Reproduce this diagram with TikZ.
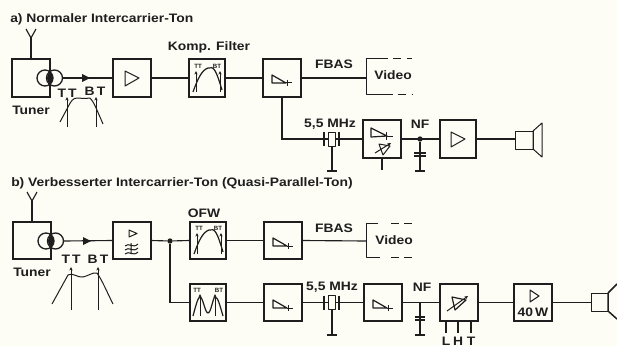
\documentclass[tikz,border=0pt]{standalone}
\usepackage{fontspec}
\setmainfont{Liberation Sans}
\newfontfamily\widesans[FakeStretch=1.13]{Liberation Sans}
\usetikzlibrary{arrows.meta}
\definecolor{ink}{HTML}{1E1E1E}
\definecolor{paper}{HTML}{FDFDF6}
\tikzset{
  blk/.style={draw=ink,line width=1.5pt,rectangle,inner sep=0pt,outer sep=0pt,minimum width=28.5pt,minimum height=28pt},
  wire/.style={draw=ink,line width=.85pt},
  sym/.style={draw=ink,line width=.75pt,line join=round},
  lab/.style={text=ink,font=\widesans\bfseries\fontsize{9.2}{10}\selectfont,inner sep=0pt},
  ttl/.style={text=ink,font=\widesans\bfseries\fontsize{9.2}{10}\selectfont,inner sep=0pt,anchor=west},
  tiny/.style={text=ink,font=\bfseries\fontsize{4.6}{5}\selectfont,inner sep=0pt},
  dot/.style={circle,fill=ink,inner sep=0pt,outer sep=0pt,minimum size=4pt},
  up/.style={-{Stealth[length=2.6pt,width=2.4pt]}},
}
\newcommand\AmpSym[2]{\draw[sym] (#1-6,#2-7)--(#1-6,#2+8)--(#1+8,#2)--cycle;}
\newcommand\DetSym[2]{\begin{scope}[shift={(#1,#2)}]
  \draw[sym,line width=.9pt] (-10,-3)--(-10,5)--(4,5)--cycle;
  \draw[sym] (4,5)--(10,5) (5,2)--(5,8);
\end{scope}}
\newcommand\Ant[2]{\draw[wire] (#1,#2)--(#1,#2-21) (#1-5,#2-30)--(#1,#2-21)--(#1+5,#2-30);}
\newcommand\Mix[2]{\begin{scope}[shift={(#1,#2)}]
  \draw[sym,line width=1pt] (-5,0) circle[radius=8] (4.5,0) circle[radius=8];
  \fill[ink] (0,0) ellipse[x radius=3,y radius=5];
\end{scope}}
\newcommand\Crystal[2]{\begin{scope}[shift={(#1,#2)}]
  \draw[sym,line width=1.1pt] (-8,-7)--(-8,7) (7,-7)--(7,7);
  \fill[paper] (-4,-7) rectangle (3,7);
  \draw[sym] (-4,-7) rectangle (3,7);
\end{scope}}
\newcommand\Gnd[2]{\draw[sym,line width=1.3pt] (#1-5,#2)--(#1+5,#2);}
\begin{document}
\begin{tikzpicture}[x=.75pt,y=-.75pt]
\fill[paper] (0,0) rectangle (617,346);
\useasboundingbox (0,0) rectangle (617,346);

% ---------- a)
\node[ttl] (ta) at (10,19) {a) Normaler Intercarrier-Ton};
\node[blk] (atun) at (31,78) {};
\node[blk] (aamp) at (131.5,78) {};
\node[blk,minimum width=27pt] (afil) at (206.5,78) {};
\node[blk] (adet) at (282,78) {};
\node[blk] (adem) at (382,139) {};
\node[blk,minimum width=27pt] (anf) at (458,139) {};
\node[lab] (ltuna) at (31,110) {Tuner};
\node[lab] (lkomp) at (209,47) {Komp. Filter};
\node[lab] (lfbasa) at (334,64) {FBAS};
\node[lab] (lvida) at (393,75) {Video};
\node[lab] (lmhza) at (330,124) {5,5 MHz};
\node[lab] (lnfa) at (420,124) {NF};
\node[lab] (ltta) at (67,93) {T\,T};
\node[lab] (lbta) at (95,91) {B\,T};
\node[tiny] (lfta) at (198,66) {TT};
\node[tiny] (lfba) at (217,66) {BT};

\coordinate (amix) at (62.5,78);
\coordinate (avid) at (366,78);
\coordinate (axt) at (324,139);
\coordinate (aspk) at (515,139);
\draw[wire] (atun.north)--(31,38);
\draw[wire] (amix)--(aamp.west);
\draw[wire] (aamp.east)--(afil.west);
\draw[wire] (afil.east)--(adet.west);
\draw[wire] (adet.east)--(avid);
\draw[wire] (adet.south)|-(axt);
\draw[wire] (axt)--(adem.west);
\draw[wire] (adem.east)--(anf.west);
\draw[wire] (anf.east)--(aspk);
\Ant{31}{59}
\Mix{50}{78}
\fill[ink] (90,78)--(82,74)--(82,82)--cycle;
\AmpSym{131}{78}
\DetSym{282}{78}
\draw[sym] (380,59)--(366,59)--(366,94)--(385,94);
\draw[sym,dash pattern=on 6pt off 4pt] (380,59)--(412,59) (385,94)--(412,94);
\Crystal{332}{139}
\draw[wire] (332,146)--(332,170); \Gnd{332}{171}
\draw[sym,line width=.9pt] (371,128)--(371,137)--(387,136)--cycle;
\draw[sym] (387,136)--(393,136) (386,132)--(386,140);
\draw[sym] (379,144)--(383,155)--(390,146)--cycle;
\draw[sym,up] (375,153)--(391,143);
\draw[wire] (adem.south)--(382,170);
\node[dot] (adotn) at (420,139) {};
\draw[wire] (adotn)--(420,171); \Gnd{420}{171}
\draw[sym,line width=1.1pt] (414,153)--(426,153) (414,156)--(426,156);
\AmpSym{457}{139}
\draw[sym] (515,131) rectangle (533,149);
\draw[sym] (533,131)--(542,123)--(542,157)--(533,149)--cycle;
\draw[sym,up] (67,127)--(67,97);
\draw[sym,up] (96,127)--(96,97);
\draw[sym] (60,122)--(68,107) .. controls (71,101) and (73,98) .. (77,98) .. controls (81,98) and (84,99) .. (90,98) .. controls (94,102) and (96,108) .. (103,124);
\draw[sym,line width=.9pt] (193,92) .. controls (198,78) and (202,70) .. (208,68) .. controls (214,66) and (216,70) .. (222,90);
\draw[sym,up] (196,92)--(196,71);
\draw[sym,up] (220,92)--(220,71);

% ---------- b)
\node[ttl] (tb) at (11,183) {b) Verbesserter Intercarrier-Ton (Quasi-Parallel-Ton)};
\node[blk] (btun) at (32,240.5) {};
\node[blk] (bamp) at (132,240.5) {};
\node[blk,minimum width=27pt] (bofw) at (207.5,240.5) {};
\node[blk] (bdet) at (283,240.5) {};
\node[blk,minimum width=27pt] (bfil) at (207.5,302.5) {};
\node[blk] (bde2) at (283,302.5) {};
\node[blk] (bdem) at (383,302.5) {};
\node[blk] (bvol) at (458.5,302.5) {};
\node[blk] (bpow) at (533,302.5) {};
\node[lab] (ltunb) at (32,272) {Tuner};
\node[lab] (lofw) at (204,213) {OFW};
\node[lab] (lfbasb) at (334,228) {FBAS};
\node[lab] (lvidb) at (394,240) {Video};
\node[lab] (lmhzb) at (332,287) {5,5 MHz};
\node[lab] (lnfb) at (422,287) {NF};
\node[lab] (lttb) at (71,259) {T\,T};
\node[lab] (lbtb) at (98,259) {B\,T};
\node[lab] (l40) at (533,312) {40\,W};
\node[lab] (ll) at (446,341) {L};
\node[lab] (lh) at (458,341) {H};
\node[lab] (lt) at (471,341) {T};
\node[tiny] (lftb) at (199,228) {TT};
\node[tiny] (lfbb) at (218,228) {BT};
\node[tiny] (lf2t) at (197,290) {TT};
\node[tiny] (lf2b) at (219,290) {BT};

\coordinate (bmix) at (63.5,241);
\coordinate (bvid) at (366,241);
\coordinate (bspk) at (591,302.5);
\node[dot] (bdot) at (170,241) {};
\draw[wire] (btun.north)--(32,201);
\draw[wire] (bmix)--(bamp.west);
\draw[wire] (bamp.east)--(bdot)--(bofw.west);
\draw[wire] (bofw.east)--(bdet.west);
\draw[wire] (bdet.east)--(bvid);
\draw[wire] (bdot)|-(bfil.west);
\draw[wire] (bfil.east)--(bde2.west);
\draw[wire] (bde2.east)--(bdem.west);
\draw[wire] (bdem.east)--(bvol.west);
\draw[wire] (bvol.east)--(bpow.west);
\draw[wire] (bpow.east)--(bspk);
\Ant{32}{222}
\Mix{51}{241}
\fill[ink] (91,241)--(83,237)--(83,245)--cycle;
\DetSym{283}{241}
\DetSym{283}{303}
\DetSym{383}{303}
\draw[sym] (129,230)--(129,237)--(137,233.5)--cycle;
\draw[sym] (125,246) .. controls (129,242) and (133,249) .. (138,244)
           (125,250) .. controls (129,246) and (133,253) .. (138,248)
           (125,254) .. controls (129,250) and (133,257) .. (138,252)
           (131,243)--(131,254);
\draw[sym] (378,223)--(366,223)--(366,257)--(380,257);
\draw[sym,dash pattern=on 6pt off 4pt] (391,223)--(413,223) (391,257)--(413,257);
\Crystal{332}{302.5}
\draw[wire] (332,309)--(332,334); \Gnd{332}{335}
\draw[wire] (420,302.5)--(420,335); \Gnd{420}{335}
\draw[sym,line width=1.1pt] (415,317)--(425,317) (415,320)--(425,320);
\draw[sym,line width=.9pt] (452,297)--(455,310)--(466,300)--cycle;
\draw[sym,up] (447,311)--(468,296);
\draw[wire] (446,321)--(446,333) (458,321)--(458,333) (471,321)--(471,333);
\draw[sym] (530,290)--(530,302)--(539,296)--cycle;
\draw[sym] (591,293) rectangle (608,311);
\draw[sym,line width=1.1pt] (608,293)--(617,284) (608,311)--(617,319) (608,293)--(608,311);
\draw[sym,up] (71,310)--(71,267);
\draw[sym,up] (98,310)--(98,267);
\draw[sym] (52,304)--(68,275) .. controls (72,272) and (78,278) .. (83,277) .. controls (88,276) and (93,272) .. (97,273) .. controls (102,280) and (107,292) .. (113,304);
\draw[sym,line width=.9pt] (194,254) .. controls (199,240) and (203,232) .. (209,230) .. controls (215,228) and (217,232) .. (223,252);
\draw[sym,up] (197,254)--(197,233);
\draw[sym,up] (221,254)--(221,233);
\draw[sym,line width=.9pt] (193,316) .. controls (196,305) and (198,297) .. (200,297) .. controls (203,297) and (205,313) .. (208,313) .. controls (211,313) and (213,297) .. (215,297) .. controls (218,297) and (220,306) .. (223,316);
\draw[sym,up] (200,316)--(200,294);
\draw[sym,up] (215,316)--(215,294);
\end{tikzpicture}
\end{document}
